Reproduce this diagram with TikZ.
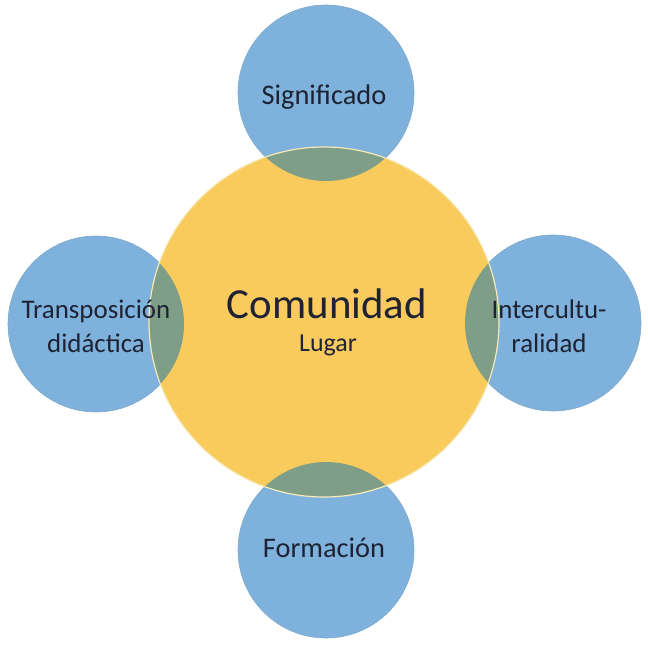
\documentclass[tikz,border=0pt]{standalone}
\usepackage{fontspec}
\setmainfont{Carlito}
\definecolor{cblue}{HTML}{7EB2DC}
\definecolor{cyellow}{HTML}{F9CB5D}
\definecolor{cgreen}{HTML}{7F9E88}
\definecolor{ctext}{HTML}{1E2233}
\definecolor{cedge}{HTML}{F6E9B8}
\begin{document}
\begin{tikzpicture}[x=1bp,y=-1bp,
  sat/.style={fill=cblue, draw=cblue!80!gray, line width=0.6bp},
  hub/.style={fill=cyellow},
  lbl/.style={text=ctext, align=center, inner sep=0pt},
  font=\fontsize{28.5}{34}\selectfont]
\useasboundingbox (0,0) rectangle (648,650);
\def\R{88}
\def\BR{175}
% satellites
\path[sat] (326,93) circle (\R);
\path[sat] (96,324) circle (\R);
\path[sat] (553,323) circle (\R);
\path[sat] (326,550) circle (\R);
% hub
\path[hub] (324,322) circle (\BR);
% overlaps
\foreach \cx/\cy in {326/93, 96/324, 553/323, 326/550}{
  \begin{scope}
    \clip (324,322) circle (\BR);
    \fill[cgreen] (\cx,\cy) circle (\R);
  \end{scope}
}
\draw[cedge, line width=1.2bp] (324,322) circle (\BR);
% texts
\node[lbl, font=\fontsize{43}{50}\selectfont] (com) at (327,304) {Comunidad};
\node[lbl, font=\fontsize{26}{30}\selectfont] (lug) at (328,345) {Lugar};
\node[lbl] (sig) at (324,97) {Significado};
\node[lbl, font=\fontsize{27}{34}\selectfont] (tra) at (96,326) {Transposición\\didáctica};
\node[lbl, font=\fontsize{27}{34}\selectfont] (int) at (549,326) {Intercultu-\\ralidad};
\node[lbl] (for) at (324,548) {Formación};
\end{tikzpicture}
\end{document}
